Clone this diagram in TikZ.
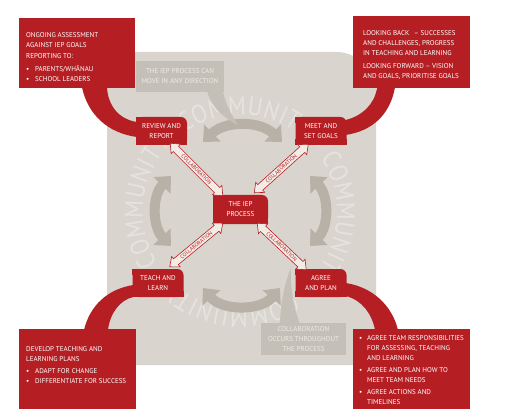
\documentclass[tikz,border=0pt]{standalone}
\usepackage{fontspec}
\setmainfont{PT Sans}
\newfontfamily\ringfam[FakeStretch=0.86]{PT Sans}
\usetikzlibrary{arrows.meta,shapes.arrows,decorations.text,calc}
\definecolor{iepred}{HTML}{B51F24}
\definecolor{bggray}{HTML}{D9D5CE}
\definecolor{arrgray}{HTML}{B7B1A7}
\definecolor{callgray}{HTML}{C5C0B7}
\definecolor{calltext}{HTML}{EEEBE6}
\definecolor{ringtext}{HTML}{E6E3DE}
\definecolor{collabfill}{HTML}{F1ECE6}
\newcommand\iepbul[1][9pt]{\makebox[#1][l]{\textbullet}}
\newcommand\ringfont{\ringfam\fontsize{26}{26}\selectfont}
\begin{document}
\begin{tikzpicture}[x=1pt,y=-1pt,
  every node/.style={font=\fontsize{7}{10}\selectfont},
  infobox/.style={fill=iepred, draw=none, anchor=north west, inner sep=0pt},
  infotext/.style={anchor=north west, align=left, inner sep=0pt, text=white},
  procbox/.style={fill=iepred, text=white, align=center, inner sep=0pt, rounded corners=6pt, minimum width=51pt, minimum height=28pt},
  callbox/.style={fill=callgray, text=calltext, align=center, inner sep=0pt},
  garrow/.style={draw=arrgray, line width=10pt, {Triangle[length=13pt,width=23pt]}-{Triangle[length=13pt,width=23pt]}},
  collabarrow/.style={double arrow, draw=iepred, fill=collabfill, line width=0.6pt, text=iepred, font=\fontsize{5.4}{6}\selectfont, inner xsep=0pt, inner ysep=1.5pt, text height=3.9pt, text depth=0pt, double arrow head extend=3pt, double arrow tip angle=80},
  redtail/.style={fill=iepred},
  calltail/.style={fill=callgray}
]
\fill[white] (0,0) rectangle (507,420);
\useasboundingbox (0,0) rectangle (507,420);

% background panel
\fill[bggray] (107,52) -- (336,52) .. controls (358,52) and (376,70) .. (376,92) -- (376,365) -- (107,365) -- cycle;

% community ring
\begin{scope}[shift={(240,212)}, y=1pt]
  \path[decorate, decoration={text along path, text color=ringtext,
     text={|\ringfont|COMMUNITY • COMMUNITY • COMMUNITY • COMMUNITY • },
     text align={fit to path}}]
     (125:97pt) arc[start angle=125, end angle=-235, radius=97pt];
\end{scope}

% gray direction arrows
\coordinate (gt1) at (203,142); \coordinate (gt2) at (282,142);
\coordinate (gl1) at (171,176); \coordinate (gl2) at (171,246);
\coordinate (gr1) at (310,176); \coordinate (gr2) at (310,246);
\coordinate (gb1) at (203,288); \coordinate (gb2) at (280,288);
\draw[garrow] (gt1) to[bend left=44] (gt2);
\draw[garrow] (gl1) to[bend right=44] (gl2);
\draw[garrow] (gr1) to[bend left=44] (gr2);
\draw[garrow] (gb1) to[bend right=50] (gb2);

% callouts
\node[callbox, minimum width=88pt, minimum height=31pt] (dir) at (180,76.5) {THE IEP PROCESS CAN\\MOVE IN ANY DIRECTION};
\coordinate (dirtip) at (238,125);
\fill[calltail] ($(dir.south)+(27,-1)$) .. controls (212,108) and (225,119) .. (dirtip) .. controls (231,114) and (225,103) .. ($(dir.south)+(43,-1)$) -- cycle;

\node[callbox, minimum width=85pt, minimum height=32pt] (occ) at (303.5,339) {COLLABORATION\\OCCURS THROUGHOUT\\THE PROCESS};
\coordinate (occtip) at (291,268);
\fill[calltail] ($(occ.north west)+(19,1)$) .. controls (281,300) and (285,282) .. (occtip) .. controls (290,285) and (293,305) .. ($(occ.north west)+(39,1)$) -- cycle;

% process boxes
\node[procbox] (review) at (161.5,131) {REVIEW AND\\REPORT};
\node[procbox] (meet) at (321,131) {MEET AND\\SET GOALS};
\node[procbox, minimum width=55pt, minimum height=29pt] (iep) at (240.5,209.5) {THE IEP\\PROCESS};
\node[procbox] (teach) at (158,283) {TEACH AND\\LEARN};
\node[procbox] (agree) at (321,283) {AGREE\\AND PLAN};
\foreach \n in {review,meet,iep,teach,agree}{
  \fill[iepred] (\n.north west) rectangle ++(6pt,-6pt);
  \fill[iepred] (\n.south west) rectangle ++(6pt,6pt);
  \fill[iepred] (\n.south east) rectangle ++(-6pt,6pt);
}

% info boxes
\node[infobox, minimum width=116pt, minimum height=70pt] (tl) at (19,18) {};
\node[infobox, minimum width=117pt, minimum height=72pt] (tr) at (353,16) {};
\node[infobox, minimum width=117pt, minimum height=80pt] (bl) at (19,329) {};
\node[infobox, minimum width=117pt, minimum height=80pt] (br) at (353,329) {};

% tails from info boxes to process boxes
\fill[redtail] ($(tl.south west)+(63,-1)$) .. controls (88,115) and (108,133) .. ($(review.west)+(1,6)$) -- ($(review.west)+(1,-9)$) .. controls (118,119) and (108,105) .. ($(tl.south west)+(88,-1)$) -- cycle;
\fill[redtail] ($(tr.south west)+(42,-1)$) .. controls (390,115) and (372,131) .. ($(meet.east)+(-1,4)$) -- ($(meet.east)+(-1,-11)$) .. controls (362,116) and (375,104) .. ($(tr.south west)+(24,-1)$) -- cycle;
\fill[redtail] ($(bl.north west)+(65,1)$) .. controls (90,305) and (108,289) .. ($(teach.west)+(1,2)$) -- ($(teach.west)+(1,14)$) .. controls (120,300) and (110,313) .. ($(bl.north west)+(89,1)$) -- cycle;
\fill[redtail] ($(agree.east)+(-1,0)$) .. controls (372,287) and (392,305) .. ($(br.north west)+(45,1)$) -- ($(br.north west)+(22,1)$) .. controls (372,314) and (362,300) .. ($(agree.east)+(-1,13)$) -- cycle;

% info texts
\node[infotext] at ($(tl.north west)+(7,14)$) {ONGOING ASSESSMENT\\AGAINST IEP GOALS\\[1pt]REPORTING TO:\\[3pt]\iepbul PARENTS/WHĀNAU\\\iepbul SCHOOL LEADERS};
\node[infotext] at ($(tr.north west)+(10,14)$) {LOOKING BACK\hspace{3pt} – SUCCESSES\\AND CHALLENGES, PROGRESS\\IN TEACHING AND LEARNING\\[3pt]LOOKING FORWARD – VISION\\AND GOALS, PRIORITISE GOALS};
\node[infotext] at ($(bl.north west)+(7,17)$) {DEVELOP TEACHING AND\\LEARNING PLANS\\[2pt]\iepbul ADAPT FOR CHANGE\\\iepbul DIFFERENTIATE FOR SUCCESS};
\node[infotext] at ($(br.north west)+(6,6)$) {\iepbul[8pt]AGREE TEAM RESPONSIBILITIES\\\hspace*{8pt}FOR ASSESSING, TEACHING\\\hspace*{8pt}AND LEARNING\\[2pt]\iepbul[8pt]AGREE AND PLAN HOW TO\\\hspace*{8pt}MEET TEAM NEEDS\\[2pt]\iepbul[8pt]AGREE ACTIONS AND\\\hspace*{8pt}TIMELINES};

% collaboration arrows
\coordinate (c1l) at ($(review.south east)+(-17,-2)$);
\coordinate (c1r) at ($(iep.north west)+(10,1)$);
\coordinate (c2l) at ($(iep.north east)+(-14,-2)$);
\coordinate (c2r) at ($(meet.south west)+(13,-1)$);
\coordinate (c3l) at ($(teach.north east)+(-14,-2)$);
\coordinate (c3r) at ($(iep.south west)+(10,-1)$);
\coordinate (c4l) at ($(iep.south east)+(-11,-1)$);
\coordinate (c4r) at ($(agree.north west)+(11,1)$);
\foreach \s/\e in {c1l/c1r,c2l/c2r,c3l/c3r,c4l/c4r}{
  \path let \p1=($(\e)-(\s)$) in
    node[collabarrow, rotate={atan2(\y1,\x1)}, minimum height={veclen(\x1,\y1)}] at ($(\s)!0.5!(\e)$) {COLLABORATION};
}
\end{tikzpicture}
\end{document}
